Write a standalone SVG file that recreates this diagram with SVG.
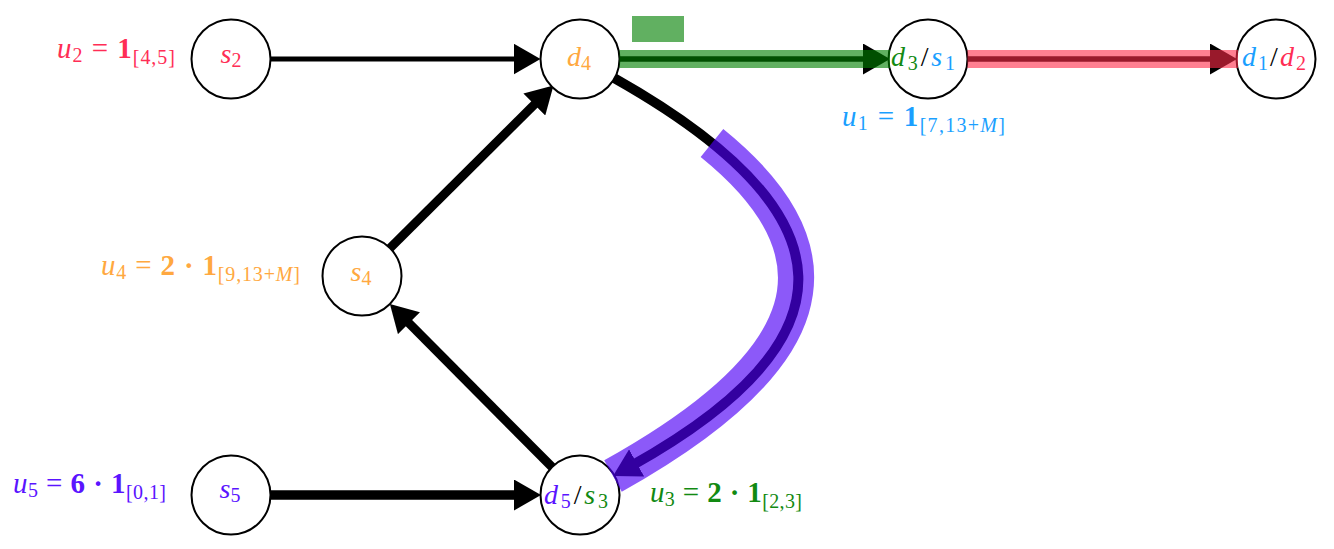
<svg xmlns="http://www.w3.org/2000/svg" width="1334" height="549" viewBox="0 0 1334 549">
<style>
.node circle{fill:#fff;stroke:#000;stroke-width:2}
.t{font-family:"Liberation Serif","Times New Roman",serif;font-size:29px}
.nt{font-family:"Liberation Serif","Times New Roman",serif;font-size:28px}
.it{font-style:italic}
.b{font-weight:bold}
.sub{font-size:20px}
.nsub{font-size:20px}
.edge{fill:none;stroke:#000}
.pink{fill:#ff2d55}.orange{fill:#ffa840}.green{fill:#128a12}.blue{fill:#1a9fff}.purple{fill:#5a14ff}.blk{fill:#000}
</style>
<defs>
<marker id="arr" markerUnits="userSpaceOnUse" markerWidth="27" markerHeight="31" viewBox="0 0 27 31" refX="7" refY="15.5" orient="auto">
<path d="M0,0 L27,15.5 L0,31 Z" fill="#000"/>
</marker>
</defs>
<g id="connectors">
<line class="edge" x1="270.5" y1="59" x2="520.5" y2="59" stroke-width="5" marker-end="url(#arr)"/>
<line class="edge" x1="619.5" y1="59" x2="870" y2="59" stroke-width="5.5" marker-end="url(#arr)"/>
<line class="edge" x1="967.5" y1="59" x2="1217" y2="59" stroke-width="5.5" marker-end="url(#arr)"/>
<line class="edge" x1="270.5" y1="495" x2="521" y2="495" stroke-width="9.3" marker-end="url(#arr)"/>
<line class="edge" x1="552" y1="467" x2="404" y2="318.2" stroke-width="9" marker-end="url(#arr)"/>
<line class="edge" x1="390" y1="248.1" x2="539.3" y2="99.6" stroke-width="9" marker-end="url(#arr)"/>
<path class="edge" d="M614,78 C857,215 857,340 630.5,466.3" stroke-width="10" marker-end="url(#arr)"/>
</g>
<g id="node-s2" class="node"><circle cx="231" cy="59" r="39.5"/>
<text class="nt pink" x="231" y="63" text-anchor="middle"><tspan class="it">s</tspan><tspan class="nsub" dy="4">2</tspan></text></g>
<g id="node-d4" class="node"><circle cx="580" cy="59" r="39.5"/>
<text class="nt orange" x="579" y="66" text-anchor="middle"><tspan class="it">d</tspan><tspan class="nsub" dy="4">4</tspan></text></g>
<g id="node-d3s1" class="node"><circle cx="928" cy="59" r="39.5"/>
<text class="nt" x="923" y="66" text-anchor="middle" textLength="64"><tspan class="it green">d</tspan><tspan class="nsub green" dy="4">3</tspan><tspan class="blk" dy="-4">/</tspan><tspan class="it blue">s</tspan><tspan class="nsub blue" dy="4">1</tspan></text></g>
<g id="node-d1d2" class="node"><circle cx="1276" cy="59" r="39.5"/>
<text class="nt" x="1274" y="66" text-anchor="middle" textLength="64"><tspan class="it blue">d</tspan><tspan class="nsub blue" dy="4">1</tspan><tspan class="blk" dy="-4">/</tspan><tspan class="it pink">d</tspan><tspan class="nsub pink" dy="4">2</tspan></text></g>
<g id="node-s4" class="node"><circle cx="362" cy="276" r="39.5"/>
<text class="nt orange" x="361" y="281" text-anchor="middle"><tspan class="it">s</tspan><tspan class="nsub" dy="4">4</tspan></text></g>
<g id="node-s5" class="node"><circle cx="231" cy="495" r="39.5"/>
<text class="nt purple" x="230" y="498" text-anchor="middle"><tspan class="it">s</tspan><tspan class="nsub" dy="4">5</tspan></text></g>
<g id="node-d5s3" class="node"><circle cx="580" cy="495" r="39.5"/>
<text class="nt" x="576" y="504" text-anchor="middle" textLength="64"><tspan class="it purple">d</tspan><tspan class="nsub purple" dy="4">5</tspan><tspan class="blk" dy="-4">/</tspan><tspan class="it green">s</tspan><tspan class="nsub green" dy="4">3</tspan></text></g>
<g id="highlights">
<rect x="632" y="16" width="52" height="26" fill="#008000" fill-opacity="0.62"/>
<line x1="619.5" y1="59" x2="890" y2="59" stroke="#008000" stroke-opacity="0.62" stroke-width="18"/>
<line x1="967.5" y1="59" x2="1238" y2="59" stroke="#ff2a48" stroke-opacity="0.6" stroke-width="18"/>
<path d="M711.97,142.93 C850.75,255.28 817.96,361.76 613,476" fill="none" stroke="#4e00f6" stroke-opacity="0.65" stroke-width="36"/>
</g>
<g id="labels">
<text class="t pink" x="57" y="58" textLength="118"><tspan class="it">u</tspan><tspan class="sub" dy="4">2</tspan><tspan dy="-4"> = </tspan><tspan class="b">1</tspan><tspan class="sub" dy="6">[4,5]</tspan></text>
<text class="t blue" x="842" y="126" textLength="163"><tspan class="it">u</tspan><tspan class="sub" dy="4">1</tspan><tspan dy="-4"> = </tspan><tspan class="b">1</tspan><tspan class="sub" dy="6">[7,13+<tspan class="it">M</tspan>]</tspan></text>
<text class="t orange" x="101" y="275" textLength="199"><tspan class="it">u</tspan><tspan class="sub" dy="4">4</tspan><tspan dy="-4"> = </tspan><tspan class="b">2 · 1</tspan><tspan class="sub" dy="6">[9,13+<tspan class="it">M</tspan>]</tspan></text>
<text class="t purple" x="13" y="493" textLength="153"><tspan class="it">u</tspan><tspan class="sub" dy="4">5</tspan><tspan dy="-4"> = </tspan><tspan class="b">6 · 1</tspan><tspan class="sub" dy="6">[0,1]</tspan></text>
<text class="t green" x="650" y="502" textLength="152"><tspan class="it">u</tspan><tspan class="sub" dy="4">3</tspan><tspan dy="-4"> = </tspan><tspan class="b">2 · 1</tspan><tspan class="sub" dy="6">[2,3]</tspan></text>
</g>
</svg>
